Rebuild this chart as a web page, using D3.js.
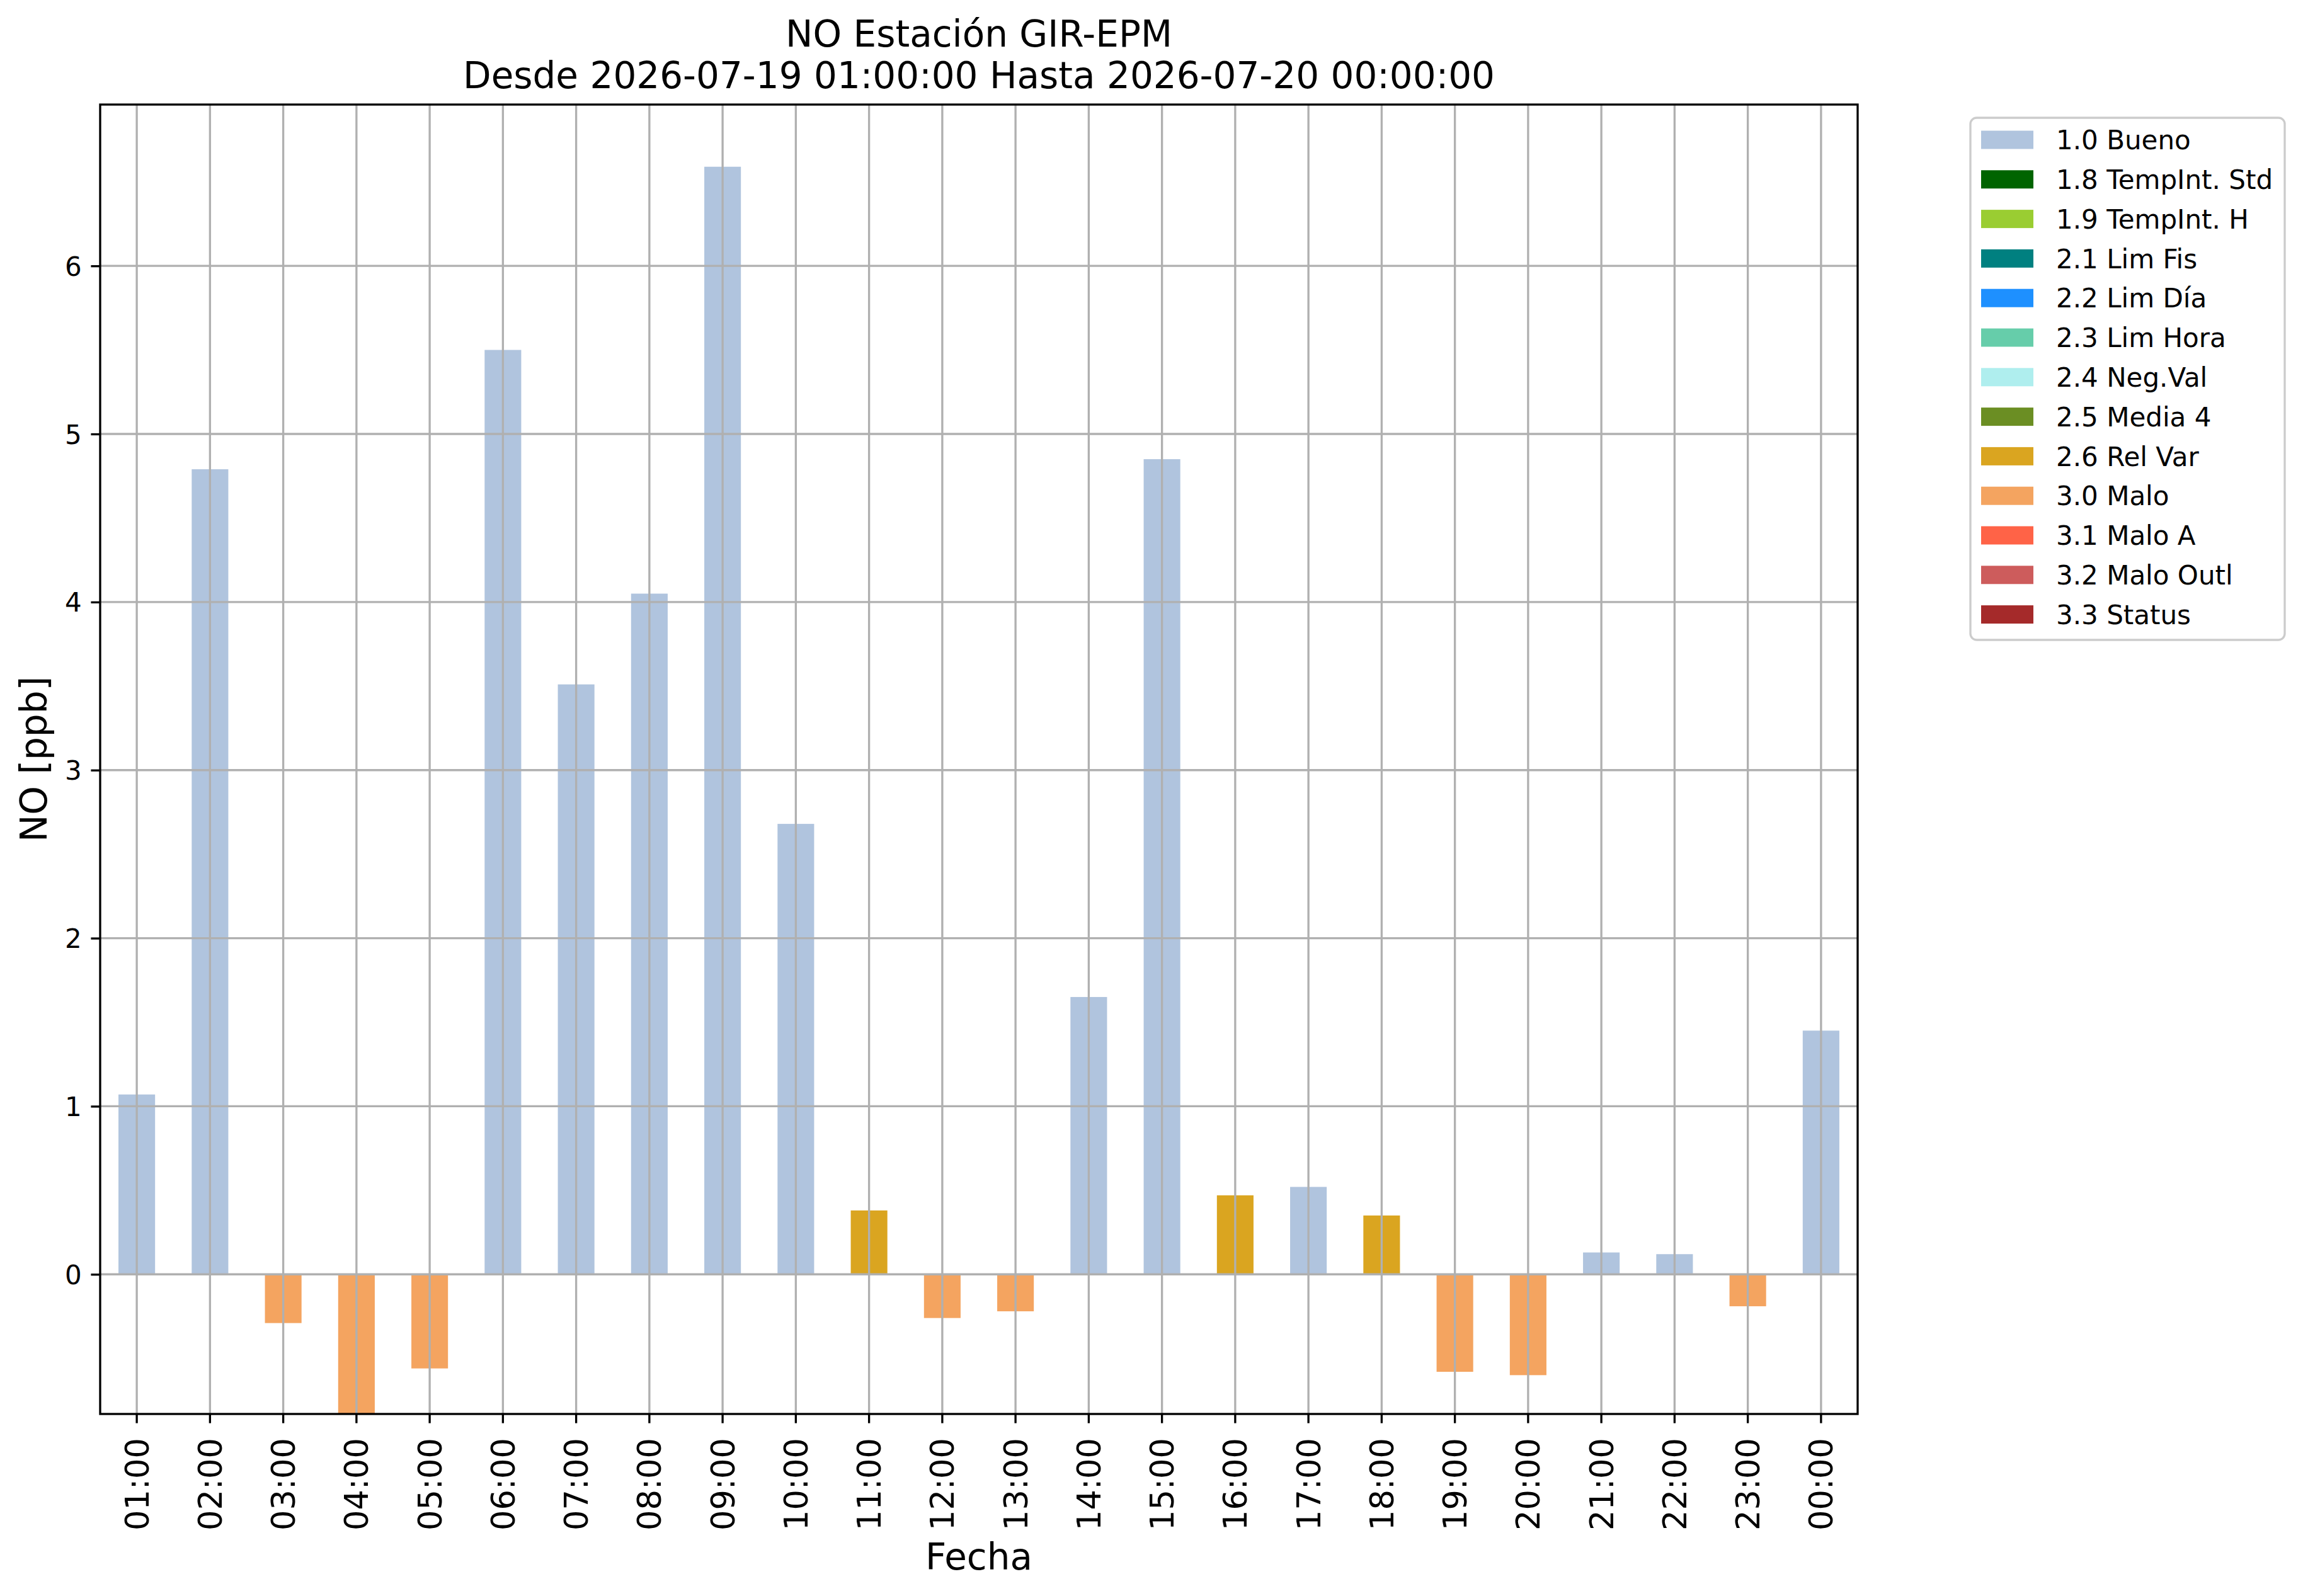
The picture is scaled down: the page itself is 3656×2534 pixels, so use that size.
<!DOCTYPE html>
<html>
<head>
<meta charset="utf-8">
<script src="https://cdn.jsdelivr.net/npm/d3@7"></script>
<style>
  body { margin: 0; background: #fff; }
  text { font-family: "DejaVu Sans", sans-serif; fill: #000; }
</style>
</head>
<body>
<svg id="chart" width="3656" height="2534"></svg>
<script>
// hourly NO values, GIR-EPM station
const hours = ["01:00", "02:00", "03:00", "04:00", "05:00", "06:00", "07:00", "08:00",
  "09:00", "10:00", "11:00", "12:00", "13:00", "14:00", "15:00", "16:00", "17:00",
  "18:00", "19:00", "20:00", "21:00", "22:00", "23:00", "00:00"];
const values = [1.07, 4.79, -0.29, -0.83, -0.56, 5.50, 3.51, 4.05, 6.59, 2.68, 0.38, -0.26,
  -0.22, 1.65, 4.85, 0.47, 0.52, 0.35, -0.58, -0.60, 0.13, 0.12, -0.19, 1.45];
const flags = ["1.0", "1.0", "3.0", "3.0", "3.0", "1.0", "1.0", "1.0", "1.0", "1.0", "2.6", "3.0",
  "3.0", "1.0", "1.0", "2.6", "1.0", "2.6", "3.0", "3.0", "1.0", "1.0", "3.0", "1.0"];

const flagCodes = ["1.0", "1.8", "1.9", "2.1", "2.2", "2.3", "2.4", "2.5", "2.6", "3.0", "3.1", "3.2", "3.3"];
const flagNames = ["1.0 Bueno", "1.8 TempInt. Std", "1.9 TempInt. H", "2.1 Lim Fis", "2.2 Lim Día",
  "2.3 Lim Hora", "2.4 Neg.Val", "2.5 Media 4", "2.6 Rel Var", "3.0 Malo", "3.1 Malo A",
  "3.2 Malo Outl", "3.3 Status"];
const flagColors = ["#b0c4de", "#006400", "#9acd32", "#008080", "#1e90ff", "#66cdaa", "#afeeee",
  "#6b8e23", "#daa520", "#f4a460", "#ff6347", "#cd5c5c", "#a52a2a"];

const yLimits = [-0.831, 6.96];
const yTicks = [0, 1, 2, 3, 4, 5, 6];

const svg = d3.select("#chart");
svg.append("rect").attr("width", 3656).attr("height", 2534).attr("fill", "#fff");

const plot = { left: 159, right: 2949, top: 166, bottom: 2245 };
const lw = 3.33; // 0.8pt at 300dpi

const x = d3.scaleBand()
  .domain(hours)
  .range([plot.left, plot.right])
  .paddingInner(0.5)
  .paddingOuter(0.25);
const y = d3.scaleLinear().domain(yLimits).range([plot.bottom, plot.top]);
const color = d3.scaleOrdinal().domain(flagCodes).range(flagColors);

svg.append("clipPath").attr("id", "plotclip")
  .append("rect")
  .attr("x", plot.left).attr("y", plot.top)
  .attr("width", plot.right - plot.left).attr("height", plot.bottom - plot.top);

// bars
svg.append("g")
  .attr("clip-path", "url(#plotclip)")
  .selectAll("rect")
  .data(hours)
  .enter()
  .append("rect")
  .attr("x", (h) => x(h))
  .attr("width", x.bandwidth())
  .attr("y", (h, i) => y(Math.max(0, values[i])))
  .attr("height", (h, i) => Math.abs(y(values[i]) - y(0)))
  .attr("fill", (h, i) => color(flags[i]));

// grid on top of bars
const grid = svg.append("g").attr("stroke", "#b0b0b0").attr("stroke-width", lw);
grid.selectAll("line.v")
  .data(hours)
  .enter()
  .append("line")
  .attr("x1", (h) => x(h) + x.bandwidth() / 2)
  .attr("x2", (h) => x(h) + x.bandwidth() / 2)
  .attr("y1", plot.top)
  .attr("y2", plot.bottom);
grid.selectAll("line.h")
  .data(yTicks)
  .enter()
  .append("line")
  .attr("x1", plot.left)
  .attr("x2", plot.right)
  .attr("y1", (d) => y(d))
  .attr("y2", (d) => y(d));

// frame
svg.append("rect")
  .attr("x", plot.left).attr("y", plot.top)
  .attr("width", plot.right - plot.left).attr("height", plot.bottom - plot.top)
  .attr("fill", "none").attr("stroke", "#000").attr("stroke-width", lw);

// y axis
const yAxis = svg.append("g")
  .attr("transform", `translate(${plot.left},0)`)
  .call(d3.axisLeft(y).tickValues(yTicks).tickFormat(d3.format("d")).tickSize(14.6).tickPadding(14.6));
yAxis.select(".domain").remove();
yAxis.selectAll(".tick line").attr("stroke", "#000").attr("stroke-width", lw);
yAxis.selectAll(".tick text")
  .attr("font-family", "DejaVu Sans")
  .attr("font-size", 42)
  .attr("dy", "0.36em");

// x axis
const xAxis = svg.append("g")
  .attr("transform", `translate(0,${plot.bottom})`)
  .call(d3.axisBottom(x).tickSize(14.6).tickPadding(0));
xAxis.select(".domain").remove();
xAxis.selectAll(".tick line").attr("stroke", "#000").attr("stroke-width", lw);
xAxis.selectAll(".tick text")
  .attr("font-family", "DejaVu Sans")
  .attr("font-size", 51)
  .attr("text-anchor", "end")
  .attr("y", 0)
  .attr("dy", "0.36em")
  .attr("transform", "translate(0,38) rotate(-90)");

// titles and labels
const midX = (plot.left + plot.right) / 2;
svg.append("text")
  .attr("x", midX).attr("y", 74)
  .attr("text-anchor", "middle").attr("font-size", 58)
  .text("NO Estación GIR-EPM");
svg.append("text")
  .attr("x", midX).attr("y", 140)
  .attr("text-anchor", "middle").attr("font-size", 58)
  .text("Desde 2026-07-19 01:00:00 Hasta 2026-07-20 00:00:00");
svg.append("text")
  .attr("x", midX).attr("y", 2492)
  .attr("text-anchor", "middle").attr("font-size", 58)
  .text("Fecha");
svg.append("text")
  .attr("transform", `translate(74,${(plot.top + plot.bottom) / 2}) rotate(-90)`)
  .attr("text-anchor", "middle").attr("font-size", 58)
  .text("NO [ppb]");

// legend
const legend = svg.append("g").attr("transform", "translate(3128,187)");
legend.append("rect")
  .attr("width", 499).attr("height", 829)
  .attr("rx", 10).attr("ry", 10)
  .attr("fill", "#fff").attr("stroke", "#cccccc").attr("stroke-width", lw);
const rows = legend.selectAll("g.row")
  .data(flagNames)
  .enter()
  .append("g")
  .attr("transform", (d, i) => `translate(0,${35 + i * 62.8})`);
rows.append("rect")
  .attr("x", 17).attr("y", -14.5)
  .attr("width", 83).attr("height", 29)
  .attr("fill", (d, i) => flagColors[i]);
rows.append("text")
  .attr("x", 136).attr("dy", "0.36em")
  .attr("font-size", 42)
  .text((d) => d);
</script>
</body>
</html>
